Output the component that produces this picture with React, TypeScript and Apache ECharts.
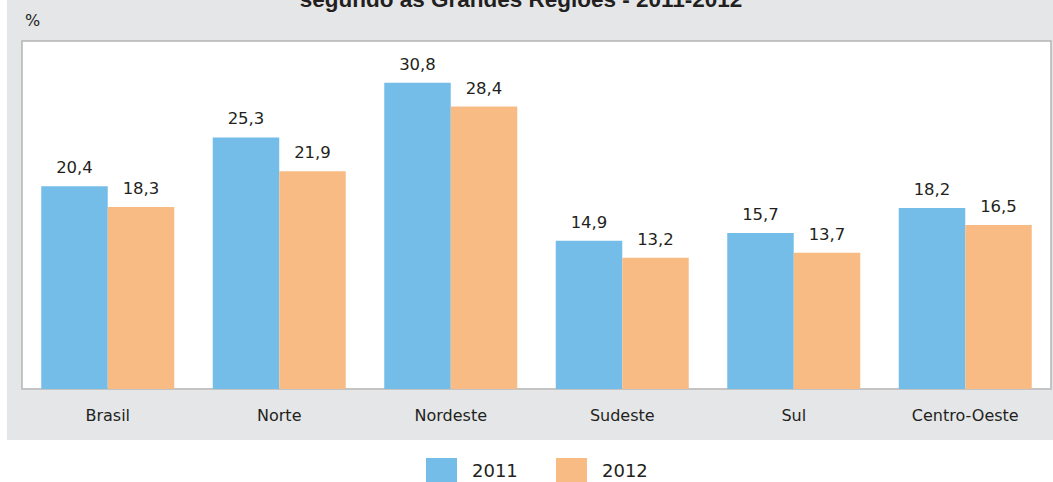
import React, { useEffect, useRef } from "react";
import * as echarts from "echarts";

const categories = ["Brasil", "Norte", "Nordeste", "Sudeste", "Sul", "Centro-Oeste"];
const values2011 = [20.4, 25.3, 30.8, 14.9, 15.7, 18.2];
const values2012 = [18.3, 21.9, 28.4, 13.2, 13.7, 16.5];
const seriesNames = ["2011", "2012"];
const titleText = "segundo as Grandes Regiões - 2011-2012";
const unitText = "%";

const BLUE = "#74bde8";
const ORANGE = "#f9bb84";
const TEXT = "#231f20";
const FONT = "DejaVu Sans";

export default function App() {
  const ref = useRef<HTMLDivElement>(null);
  useEffect(() => {
    if (!ref.current) return;
    const chart = echarts.init(ref.current, null, { renderer: "svg" });
    const fmt = (p: any) => String(p.value).replace(".", ",");
    const barLabel = {
      show: true,
      position: "top",
      distance: 10,
      formatter: fmt,
      fontFamily: FONT,
      fontSize: 16.5,
      color: TEXT,
    };
    chart.setOption({
      animation: false,
      backgroundColor: "#ffffff",
      graphic: [
        {
          type: "rect",
          z: -10,
          silent: true,
          shape: { x: 7, y: 0, width: 1046, height: 440 },
          style: { fill: "#e5e6e8" },
        },
        {
          type: "text",
          x: 521,
          y: -0.5,
          style: {
            text: titleText,
            font: "bold 22.5px 'Liberation Sans'",
            fill: TEXT,
            align: "center",
            verticalAlign: "middle",
          },
        },
        {
          type: "text",
          x: 25,
          y: 20,
          style: {
            text: unitText,
            font: `16px '${FONT}'`,
            fill: TEXT,
            align: "left",
            verticalAlign: "middle",
          },
        },
      ],
      legend: [
        {
          data: [seriesNames[0]],
          left: 426,
          top: 458,
          itemWidth: 31,
          itemHeight: 24,
          itemGap: 0,
          itemStyle: { borderWidth: 0 },
          textStyle: { fontFamily: FONT, fontSize: 18, color: TEXT, padding: [0, 0, 0, 10] },
          icon: "rect",
          padding: 0,
        },
        {
          data: [seriesNames[1]],
          left: 556,
          top: 458,
          itemWidth: 31,
          itemHeight: 24,
          itemGap: 0,
          itemStyle: { borderWidth: 0 },
          textStyle: { fontFamily: FONT, fontSize: 18, color: TEXT, padding: [0, 0, 0, 10] },
          icon: "rect",
          padding: 0,
        },
      ],
      grid: {
        left: 22,
        right: 2,
        top: 41,
        height: 348,
        show: true,
        backgroundColor: "#ffffff",
        borderColor: "#b4b4b4",
        borderWidth: 1.5,
      },
      xAxis: {
        type: "category",
        data: categories,
        axisLine: { show: true, lineStyle: { color: "#c4c4c4", width: 2 } },
        axisTick: { show: false },
        axisLabel: { fontFamily: FONT, fontSize: 16, color: TEXT, margin: 18 },
      },
      yAxis: {
        type: "value",
        min: 0,
        max: 35,
        show: false,
        splitLine: { show: false },
      },
      series: [
        {
          name: seriesNames[0],
          type: "bar",
          data: values2011,
          barWidth: 66.5,
          barGap: "0%",
          itemStyle: { color: BLUE },
          label: barLabel,
        },
        {
          name: seriesNames[1],
          type: "bar",
          data: values2012,
          barWidth: 66.5,
          barGap: "0%",
          itemStyle: { color: ORANGE },
          label: barLabel,
        },
      ],
    });
    return () => chart.dispose();
  }, []);
  return (
    <div
      ref={ref}
      style={{ position: "absolute", left: 0, top: 0, width: 1053, height: 482 }}
    />
  );
}
